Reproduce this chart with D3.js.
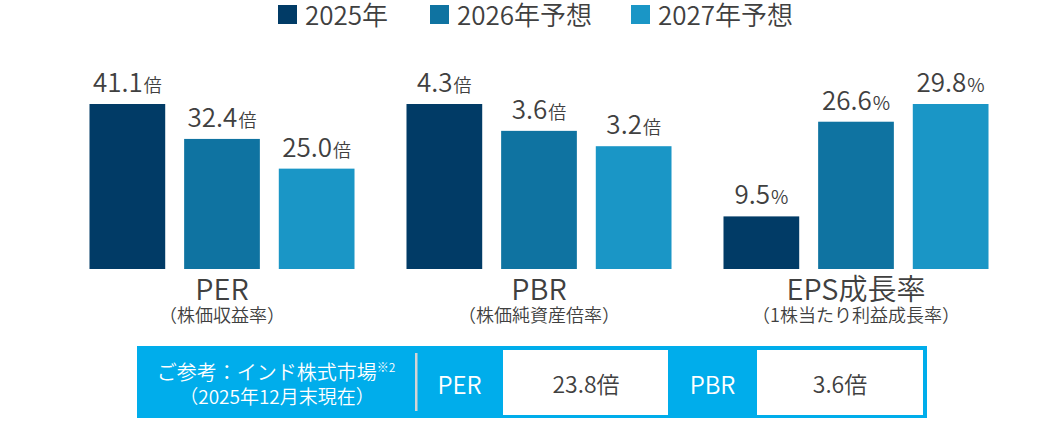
<!DOCTYPE html>
<html><head><meta charset="utf-8">
<script src="https://cdn.jsdelivr.net/npm/d3@7"></script>
<style>
html,body{margin:0;padding:0;background:#fff;}
svg{display:block;font-family:"Noto Sans CJK JP","Noto Sans",sans-serif;font-weight:350;}
</style></head>
<body>
<svg id="chart" width="1060" height="425"></svg>
<script>
const categories = ["PER", "PBR", "EPS成長率"];
const subLabels = ["（株価収益率）", "（株価純資産倍率）", "（1株当たり利益成長率）"];
const units = ["倍", "倍", "%"];
const seriesNames = ["2025年", "2026年予想", "2027年予想"];
const values2025 = [41.1, 4.3, 9.5];
const values2026 = [32.4, 3.6, 26.6];
const values2027 = [25.0, 3.2, 29.8];
const seriesColors = ["#013b66", "#0f73a1", "#1a96c6"];
const refTitle = "ご参考：インド株式市場";
const refNote = "※2";
const refDate = "（2025年12月末現在）";
const refLabels = ["PER", "PBR"];
const refValues = ["23.8倍", "3.6倍"];

const svg = d3.select("#chart");
const textColor = "#404040";
const seriesValues = [values2025, values2026, values2027];

const x0 = d3.scaleBand().domain(categories).range([63.5, 1014.5]).paddingInner(0.164).paddingOuter(0.082);
const x1 = d3.scaleBand().domain(seriesNames).range([0, x0.bandwidth()]).paddingInner(0.2).paddingOuter(0);
const base = 269, topY = 104;
const yScales = categories.map((c, i) => d3.scaleLinear()
  .domain([0, d3.max(seriesValues, s => s[i])]).range([base, topY]));

// legend
const legendX = [278, 430, 631];
const lg = svg.append("g");
seriesNames.forEach((n, j) => {
  lg.append("rect").attr("x", legendX[j]).attr("y", 5).attr("width", 19).attr("height", 19).attr("fill", seriesColors[j]);
  lg.append("text").attr("x", legendX[j] + 27).attr("y", 25).attr("font-size", 26).attr("fill", textColor).text(n);
});

// bars
categories.forEach((c, i) => {
  const g = svg.append("g").attr("transform", `translate(${x0(c)},0)`);
  const y = yScales[i];
  seriesNames.forEach((n, j) => {
    const v = seriesValues[j][i];
    g.append("rect").attr("x", x1(n)).attr("y", y(v)).attr("width", x1.bandwidth())
      .attr("height", base - y(v)).attr("fill", seriesColors[j]);
    const t = g.append("text").attr("x", x1(n) + x1.bandwidth() / 2).attr("y", y(v) - 12)
      .attr("text-anchor", "middle").attr("fill", textColor);
    t.append("tspan").attr("font-size", 26).text(v.toFixed(1));
    t.append("tspan").attr("font-size", units[i] === "%" ? 19 : 18).attr("dx", 1).text(units[i]);
  });
  const cx = x0.bandwidth() / 2;
  g.append("text").attr("x", cx).attr("y", 300).attr("text-anchor", "middle")
    .attr("font-size", 29).attr("fill", textColor).text(c);
  g.append("text").attr("x", cx).attr("y", 322).attr("text-anchor", "middle")
    .attr("font-size", 18).attr("fill", textColor).text(subLabels[i]);
});

// reference box
const box = svg.append("g");
const boxBlue = "#00adeb";
box.append("rect").attr("x", 137).attr("y", 346).attr("width", 790).attr("height", 72).attr("fill", boxBlue);
const t1 = box.append("text").attr("x", 276).attr("y", 380).attr("text-anchor", "middle").attr("fill", "#fff");
t1.append("tspan").attr("font-size", 20).text(refTitle);
t1.append("tspan").attr("font-size", 12).attr("dy", -8).text(refNote);
box.append("text").attr("x", 277).attr("y", 404).attr("text-anchor", "middle").attr("fill", "#fff")
  .attr("font-size", 19).text(refDate);
box.append("rect").attr("x", 415).attr("y", 353).attr("width", 2.5).attr("height", 58).attr("fill", "#d4d4d4");
const labelCx = [459.5, 712.5];
const cellX = [503, 757];
refLabels.forEach((l, k) => {
  box.append("text").attr("x", labelCx[k]).attr("y", 394).attr("text-anchor", "middle")
    .attr("font-size", 24).attr("fill", "#fff").text(l);
  box.append("rect").attr("x", cellX[k]).attr("y", 350).attr("width", k === 0 ? 165 : 166).attr("height", 65).attr("fill", "#fff");
  box.append("text").attr("x", cellX[k] + 83).attr("y", 393).attr("text-anchor", "middle")
    .attr("font-size", 23).attr("fill", textColor).text(refValues[k]);
});
</script>
</body></html>
